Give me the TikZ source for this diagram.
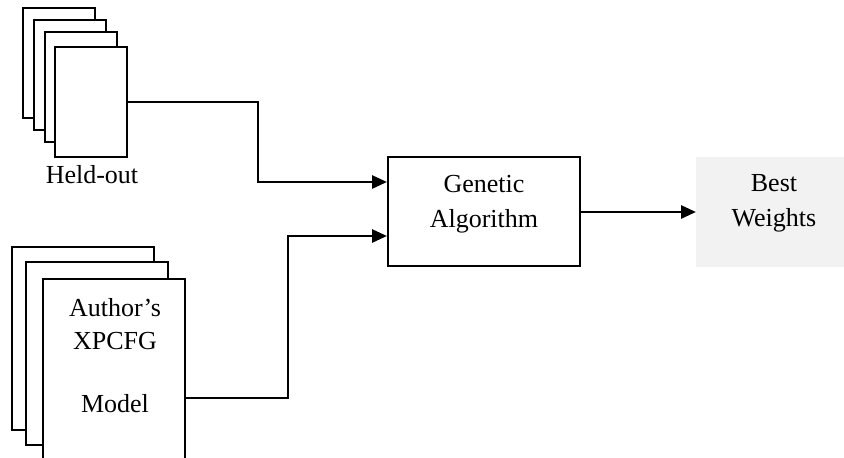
\documentclass[tikz,border=0pt]{standalone}
\usepackage{fontspec}
\setmainfont{Liberation Serif}
\usetikzlibrary{arrows.meta}
\begin{document}
\begin{tikzpicture}[x=1pt,y=-1pt,
  page/.style={draw=black,line width=2pt,fill=white,minimum width=72pt,minimum height=110pt,inner sep=0pt},
  bigpage/.style={draw=black,line width=2pt,fill=white,minimum width=142pt,minimum height=183pt,inner sep=0pt},
  lbl/.style={font=\fontsize{26}{30}\selectfont,anchor=base,inner sep=0pt},
  conn/.style={line width=2.8pt,-{Triangle[length=15pt,width=13pt]}}]
\useasboundingbox (0,0) rectangle (844,458);
\clip (0,0) rectangle (844,458);
% held-out stack
\node[page] (h1) at (59,62.5) {};
\node[page] (h2) at (70,74.5) {};
\node[page] (h3) at (80.5,86.5) {};
\node[page] (h4) at (91,102) {};
\node[lbl] (hl) at (92,183) {Held-out};
% model stack
\node[bigpage] (m1) at (82.5,338.5) {};
\node[bigpage] (m2) at (97,353.5) {};
\node[bigpage] (m3) at (114,370.5) {};
\node[lbl] (t1) at (115,316) {Author’s};
\node[lbl] (t2) at (115,349) {XPCFG};
\node[lbl] (t3) at (115,412) {Model};
% genetic algorithm
\node[draw=black,line width=2pt,minimum width=192pt,minimum height=109pt,inner sep=0pt] (ga) at (484,211.5) {};
\node[lbl] (g1) at (484,192) {Genetic};
\node[lbl] (g2) at (484,227) {Algorithm};
% best weights
\node[fill={rgb,255:red,242;green,242;blue,242},minimum width=156pt,minimum height=110pt,inner sep=0pt,anchor=west] (bw) at (696,212) {};
\node[lbl] (b1) at (774,191) {Best};
\node[lbl] (b2) at (774,226) {Weights};
% connectors
\draw[conn] (h4.east) -- (258,102) |- ([yshift=29.5pt]ga.west);
\draw[conn] ([yshift=-27.5pt]m3.east) -- (288,398) |- ([yshift=-24.5pt]ga.west);
\draw[conn] ([yshift=-0.5pt]ga.east) -- (bw.west);
\end{tikzpicture}
\end{document}
